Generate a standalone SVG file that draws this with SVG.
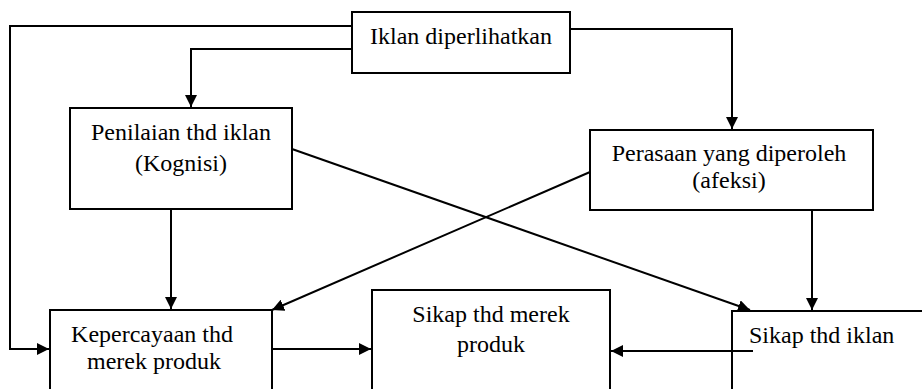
<svg xmlns="http://www.w3.org/2000/svg" width="922" height="389" viewBox="0 0 922 389">
<defs>
<style>
.box{fill:#fff;stroke:#000;stroke-width:2}
.t{font-family:"Liberation Serif","Times New Roman",serif;font-size:24px;fill:#000}
.m{text-anchor:middle}
.c{fill:none;stroke:#000;stroke-width:2}
</style>
<marker id="ah" markerUnits="userSpaceOnUse" markerWidth="14" markerHeight="12" refX="12" refY="6" orient="auto">
<path d="M0,0 L12,6 L0,12 Z" fill="#000"/>
</marker>
</defs>
<rect width="922" height="389" fill="#fff"/>
<g id="connectors">
<polyline class="c" points="352,26 10,26 10,349 49,349" marker-end="url(#ah)"/>
<polyline class="c" points="352,49 191,49 191,107" marker-end="url(#ah)"/>
<polyline class="c" points="570,29 732,29 732,129" marker-end="url(#ah)"/>
<line class="c" x1="171" y1="209" x2="171" y2="309" marker-end="url(#ah)"/>
<line class="c" x1="292" y1="149" x2="750" y2="310" marker-end="url(#ah)"/>
<line class="c" x1="590" y1="172" x2="272" y2="310" marker-end="url(#ah)"/>
<line class="c" x1="812" y1="210" x2="812" y2="310" marker-end="url(#ah)"/>
<line class="c" x1="272" y1="349" x2="371" y2="349" marker-end="url(#ah)"/>
</g>
<g id="n_iklan">
<rect class="box" x="352" y="12" width="218" height="61"/>
<text class="t m" x="461" y="44">Iklan diperlihatkan</text>
</g>
<g id="n_penilaian">
<rect class="box" x="70" y="108" width="222" height="101"/>
<text class="t m" x="181" y="140">Penilaian thd iklan</text>
<text class="t m" x="181" y="171">(Kognisi)</text>
</g>
<g id="n_perasaan">
<rect class="box" x="590" y="130" width="283" height="80"/>
<text class="t m" x="729" y="161">Perasaan yang diperoleh</text>
<text class="t m" x="729" y="188">(afeksi)</text>
</g>
<g id="n_kepercayaan">
<rect class="box" x="50" y="310" width="222" height="90"/>
<text class="t m" x="152" y="342">Kepercayaan thd</text>
<text class="t m" x="154" y="369">merek produk</text>
</g>
<g id="n_sikap_merek">
<rect class="box" x="372" y="290" width="238" height="110"/>
<text class="t m" x="491" y="322">Sikap thd merek</text>
<text class="t m" x="491" y="352">produk</text>
</g>
<g id="n_sikap_iklan">
<rect class="box" x="732" y="311" width="200" height="90"/>
<text class="t" x="749" y="343">Sikap thd iklan</text>
</g>
<g id="connectors2">
<line class="c" x1="753" y1="351" x2="611" y2="351" marker-end="url(#ah)"/>
</g>
</svg>
